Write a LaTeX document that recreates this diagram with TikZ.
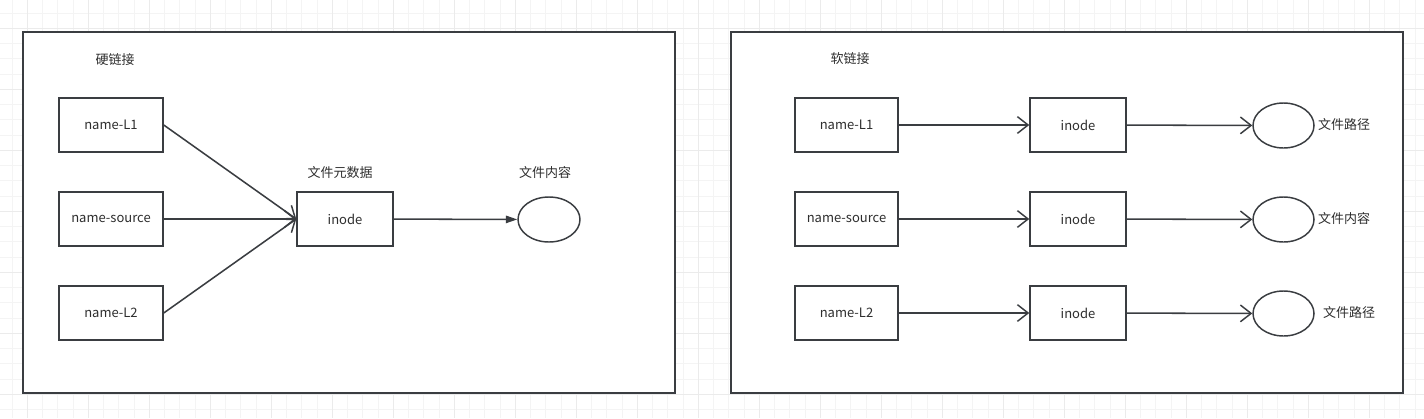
\documentclass[tikz,border=0pt]{standalone}
\usepackage{fontspec}
\setmainfont{Noto Sans CJK SC}
\usetikzlibrary{arrows.meta}
\usetikzlibrary{shapes.geometric}
\definecolor{linegray}{HTML}{3A3D41}
\definecolor{textgray}{HTML}{2E2E2E}
\definecolor{gridminor}{HTML}{F4F4F4}
\definecolor{gridmajor}{HTML}{EBEBEB}
\tikzset{
	%	frame/.style={draw,thick},
	frame/.style={draw=linegray,fill=white,line width=1.5pt},
	box/.style={rectangle,draw=linegray,line width=1.1pt,minimum height=40.5pt,inner sep=0pt,text=textgray,font=\fontsize{9.75}{12}\selectfont},
	blob/.style={ellipse,draw=linegray,line width=1.1pt,minimum width=46.5pt,minimum height=33.75pt,inner sep=0pt},
	lbl/.style={text=textgray,inner sep=0pt,font=\fontsize{9.75}{12}\selectfont},
	edge/.style={-{Straight Barb[length=8pt,width=12.5pt,line width=1.1pt]},draw=linegray,line width=1.15pt},
	solid edge/.style={-{Triangle[length=8.5pt,width=5.5pt]},draw=linegray,line width=1.15pt}
}

\begin{document}
\begin{tikzpicture}[x=0.75pt,y=-0.75pt]
	\useasboundingbox (0,0) rectangle (1424,418);
	% background grid
	\foreach \i in {0,...,92} \draw[gridminor,line width=0.75pt] ({12.05+\i*15.25},0) -- ++(0,418);
	\foreach \j in {0,...,26} \draw[gridminor,line width=0.75pt] (0,{13.05+\j*15.25}) -- ++(1424,0);
	\foreach \i in {0,...,22} \draw[gridmajor,line width=0.75pt] ({27.3+\i*61},0) -- ++(0,418);
	\foreach \j in {0,...,6} \draw[gridmajor,line width=0.75pt] (0,{28.3+\j*61}) -- ++(1424,0);
	
	\draw[frame] (23,32) rectangle (675,393);
	\draw[frame] (731,32) rectangle (1403,393);
	
	% hard links
	\node[lbl] (hardT) at (115,60) {硬链接};
	\node[box,minimum width=78pt] (h1) at (111,125) {name-L1};
	\node[box,minimum width=78pt] (hs) at (111,219) {name-source};
	\node[box,minimum width=78pt] (h2) at (111,313) {name-L2};
	\node[box,minimum width=72pt] (hi) at (345,219) {inode};
	\node[blob] (hc) at (549,219.5) {};
	\node[lbl] (hiT) at (340,173) {文件元数据};
	\node[lbl] (hcT) at (545,173) {文件内容};
	
	\draw[edge] (h1.east) -- (hi.west);
	\draw[edge] (hs) -- (hi);
	\draw[edge] (h2.east) -- (hi.west);
	\draw[solid edge] (hi) -- (hc);
	
	% soft links
	\node[lbl] (softT) at (850,59) {软链接};
	\node[box,minimum width=77.25pt] (s1) at (846.5,125) {name-L1};
	\node[box,minimum width=77.25pt] (ss) at (846.5,219) {name-source};
	\node[box,minimum width=77.25pt] (s2) at (846.5,313) {name-L2};
	\node[box,minimum width=72pt] (i1) at (1078,125) {inode};
	\node[box,minimum width=72pt] (is) at (1078,219) {inode};
	\node[box,minimum width=72pt] (i2) at (1078,313) {inode};
	\node[blob,minimum width=45.75pt] (c1) at (1283.5,125.5) {};
	\node[blob,minimum width=45.75pt] (cs) at (1283.5,219.5) {};
	\node[blob,minimum width=45.75pt] (c2) at (1283.5,313.5) {};
	\node[lbl] (c1T) at (1344,125) {文件路径};
	\node[lbl] (csT) at (1344,219) {文件内容};
	\node[lbl] (c2T) at (1349,313) {文件路径};
	
	\draw[edge] (s1) -- (i1);
	\draw[edge] (ss) -- (is);
	\draw[edge] (s2) -- (i2);
	\draw[edge] (i1) -- (c1);
	\draw[edge] (is) -- (cs);
	\draw[edge] (i2) -- (c2);
\end{tikzpicture}
\end{document}
